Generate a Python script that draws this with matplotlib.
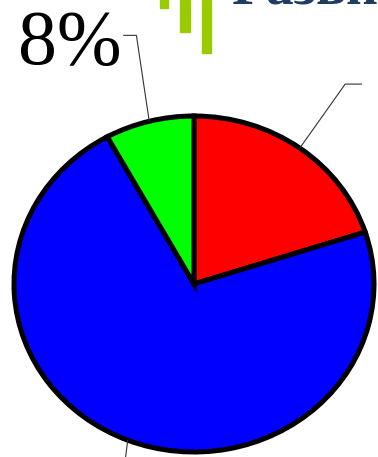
import matplotlib.pyplot as plt
from matplotlib.patches import Rectangle
import numpy as np

# Slice data (clockwise from 12 o'clock)
labels = ['20%', '72%', '8%']
values = [20, 72, 8]
colors = ['#FF0000', '#0000FF', '#00FF00']

title_text = 'Развитие'

W, H = 378, 457
fig = plt.figure(figsize=(W / 100, H / 100), dpi=100)

# pie is slightly wider than tall in the picture
cx, cy, rx, ry = 194, 284, 180, 168
ax = fig.add_axes([(cx - rx) / W, (H - cy - ry) / H, 2 * rx / W, 2 * ry / H])
wedges, _ = ax.pie(values, colors=colors, startangle=90, counterclock=False,
                   radius=1.0,
                   wedgeprops=dict(edgecolor='black', linewidth=3.6))
ax.set_aspect('auto')
ax.set_xlim(-1, 1)
ax.set_ylim(-1, 1)
ax.axis('off')

# leader knee, leader end, text anchor (baseline) for each slice
knees = [(0.84, 1.19), (-0.40, -1.20), (-0.32, 1.48)]
ends = [(0.93, 1.19), (-0.50, -1.20), (-0.39, 1.48)]
anchors = [(1.02, 1.03), (-0.52, -1.45), (-0.40, 1.31)]
for w, lab, kn, en, an in zip(wedges, labels, knees, ends, anchors):
    ang = np.deg2rad((w.theta1 + w.theta2) / 2)
    x0, y0 = np.cos(ang), np.sin(ang)
    ax.plot([x0, kn[0], en[0]], [y0, kn[1], en[1]], color='#333333',
            lw=0.8, clip_on=False, solid_joinstyle='miter')
    ha = 'left' if en[0] > kn[0] else 'right'
    ax.text(an[0], an[1], lab, ha=ha, va='baseline', fontsize=56,
            family='Liberation Serif', clip_on=False)

# decoration bars and title (cut by top edge)
for x0, x1, y1 in [(160, 168, 8), (180, 190, 32), (202, 211, 53)]:
    fig.patches.append(Rectangle((x0 / W, 1 - y1 / H), (x1 - x0) / W, y1 / H,
                                 transform=fig.transFigure, color='#99CC00'))
fig.text(232 / W, 1 - 4 / H, title_text, ha='left', va='baseline',
         fontsize=40, fontweight='bold', family='Liberation Serif',
         color='#1F3D63')

fig.savefig('out.png', dpi=100)
